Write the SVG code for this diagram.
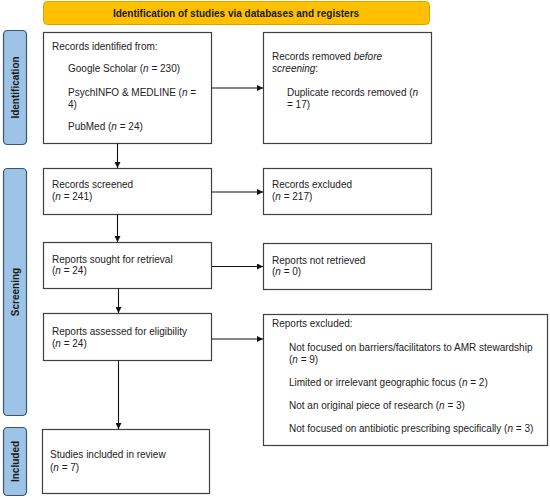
<svg xmlns="http://www.w3.org/2000/svg" width="550" height="498" viewBox="0 0 550 498">
<style>
.box{fill:#fff;stroke:#404040;stroke-width:1.2}
.side{fill:#9DC3E6;stroke:#3B5670;stroke-width:1.2}
.t{font-family:"Liberation Sans",Arial,sans-serif;font-size:10px;fill:#222}
.b{font-family:"Liberation Sans",Arial,sans-serif;font-size:10px;font-weight:bold;fill:#1a1a1a}
.c{stroke:#111;stroke-width:1.1;fill:none;marker-end:url(#ah)}
</style>
<defs>
<marker id="ah" viewBox="0 0 10 10" refX="10" refY="5" markerWidth="6" markerHeight="6" markerUnits="userSpaceOnUse" orient="auto">
<path d="M0,0 L10,5 L0,10 z" fill="#111"/>
</marker>
</defs>
<rect width="550" height="498" fill="#fff"/>
<g id="banner">
<rect x="43.5" y="1.5" width="386" height="23" rx="4" fill="#FFC000" stroke="#D9A400" stroke-width="1"/>
<text class="b" x="236" y="16.5" text-anchor="middle">Identification of studies via databases and registers</text>
</g>
<g id="side-identification">
<rect class="side" x="3.5" y="30.5" width="23" height="114" rx="4"/>
<text class="b" transform="translate(18.5,87.5) rotate(-90)" text-anchor="middle">Identification</text>
</g>
<g id="side-screening">
<rect class="side" x="3.5" y="168.5" width="23" height="247" rx="4"/>
<text class="b" transform="translate(18.5,292) rotate(-90)" text-anchor="middle">Screening</text>
</g>
<g id="side-included">
<rect class="side" x="3.5" y="427.5" width="23" height="68" rx="4"/>
<text class="b" transform="translate(18.5,461.5) rotate(-90)" text-anchor="middle">Included</text>
</g>
<g id="records-identified">
<rect class="box" x="43.5" y="32.5" width="168" height="111"/>
<text class="t" x="52" y="49.5">Records identified from:</text>
<text class="t" x="68" y="72">Google Scholar (<tspan font-style="italic">n</tspan> = 230)</text>
<text class="t" x="68" y="96">PsychINFO &amp; MEDLINE (<tspan font-style="italic">n</tspan> =</text>
<text class="t" x="68" y="107.5">4)</text>
<text class="t" x="68" y="130">PubMed (<tspan font-style="italic">n</tspan> = 24)</text>
</g>
<g id="records-removed">
<rect class="box" x="263.5" y="32.5" width="168" height="111"/>
<text class="t" x="272" y="60">Records removed <tspan font-style="italic">before</tspan></text>
<text class="t" x="272" y="71.5"><tspan font-style="italic">screening</tspan>:</text>
<text class="t" x="287" y="96">Duplicate records removed (<tspan font-style="italic">n</tspan></text>
<text class="t" x="287" y="107.5">= 17)</text>
</g>
<g id="records-screened">
<rect class="box" x="43.5" y="168.5" width="168" height="46"/>
<text class="t" x="52" y="188">Records screened</text>
<text class="t" x="52" y="200">(<tspan font-style="italic">n</tspan> = 241)</text>
</g>
<g id="records-excluded">
<rect class="box" x="263.5" y="168.5" width="168" height="46"/>
<text class="t" x="272" y="188">Records excluded</text>
<text class="t" x="272" y="200">(<tspan font-style="italic">n</tspan> = 217)</text>
</g>
<g id="reports-sought">
<rect class="box" x="43.5" y="242.5" width="168" height="46"/>
<text class="t" x="52" y="263">Reports sought for retrieval</text>
<text class="t" x="52" y="274">(<tspan font-style="italic">n</tspan> = 24)</text>
</g>
<g id="reports-not-retrieved">
<rect class="box" x="263.5" y="243.5" width="168" height="46"/>
<text class="t" x="272" y="263.5">Reports not retrieved</text>
<text class="t" x="272" y="275">(<tspan font-style="italic">n</tspan> = 0)</text>
</g>
<g id="reports-assessed">
<rect class="box" x="43.5" y="313.5" width="168" height="47"/>
<text class="t" x="52" y="335">Reports assessed for eligibility</text>
<text class="t" x="52" y="347">(<tspan font-style="italic">n</tspan> = 24)</text>
</g>
<g id="reports-excluded">
<rect class="box" x="263.5" y="314.5" width="284" height="131"/>
<text class="t" x="272" y="327">Reports excluded:</text>
<text class="t" x="289" y="351">Not focused on barriers/facilitators to AMR stewardship</text>
<text class="t" x="289" y="362.5">(<tspan font-style="italic">n</tspan> = 9)</text>
<text class="t" x="289" y="386">Limited or irrelevant geographic focus (<tspan font-style="italic">n</tspan> = 2)</text>
<text class="t" x="289" y="409">Not an original piece of research (<tspan font-style="italic">n</tspan> = 3)</text>
<text class="t" x="289" y="432">Not focused on antibiotic prescribing specifically (<tspan font-style="italic">n</tspan> = 3)</text>
</g>
<g id="studies-included">
<rect class="box" x="42.5" y="429.5" width="167" height="64"/>
<text class="t" x="50" y="458">Studies included in review</text>
<text class="t" x="50" y="470.5">(<tspan font-style="italic">n</tspan> = 7)</text>
</g>
<g id="connectors">
<path class="c" d="M211.5,88 H263"/>
<path class="c" d="M117.5,143.5 V168"/>
<path class="c" d="M211.5,192 H263"/>
<path class="c" d="M117.5,214.5 V242"/>
<path class="c" d="M212,266.5 H263"/>
<path class="c" d="M118.5,288.5 V313"/>
<path class="c" d="M212,339 H263"/>
<path class="c" d="M118.5,360.5 V429"/>
</g>
</svg>
